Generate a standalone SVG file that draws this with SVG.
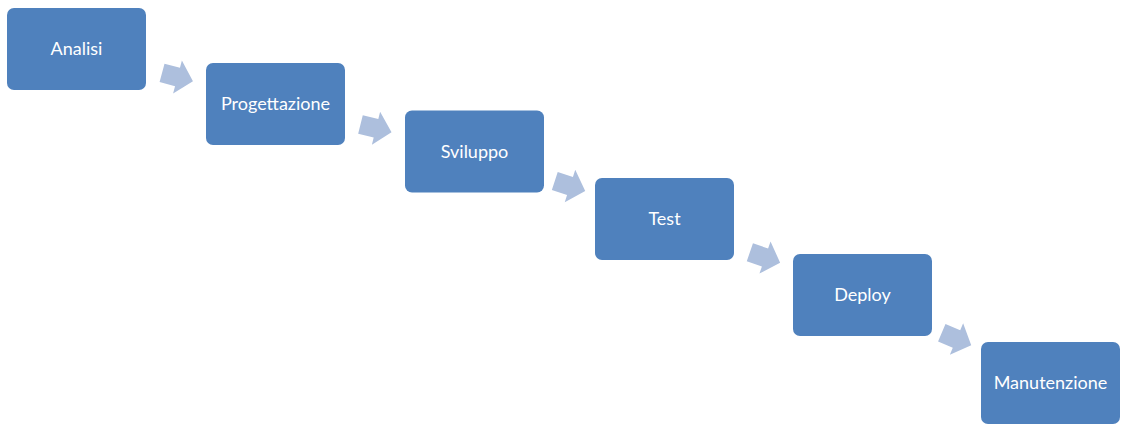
<svg xmlns="http://www.w3.org/2000/svg" width="1121" height="428" viewBox="0 0 1121 428">
  <style>
    .box { fill: #4f81bd; }
    .lbl { fill: #ffffff; font-family: Lato, "Liberation Sans", sans-serif; font-size: 18px; text-anchor: middle; }
    .arr { fill: #adbfdd; }
  </style>
  <defs>
    <path id="blockArrow" d="M-16,-9.5 H0 V-17 L16,0 L0,17 V9.5 H-16 Z"/>
  </defs>
  <rect width="1121" height="428" fill="#ffffff"/>
  <g id="connectors">
    <use href="#blockArrow" class="arr" transform="translate(177.5,77) rotate(15)"/>
    <use href="#blockArrow" class="arr" transform="translate(376,128.3) rotate(14)"/>
    <use href="#blockArrow" class="arr" transform="translate(570,186) rotate(18)"/>
    <use href="#blockArrow" class="arr" transform="translate(765,257.5) rotate(19)"/>
    <use href="#blockArrow" class="arr" transform="translate(956.5,339) rotate(23)"/>
  </g>
  <g id="analisi">
    <rect class="box" x="7" y="8" width="139" height="82" rx="7"/>
    <text class="lbl" x="76.5" y="55">Analisi</text>
  </g>
  <g id="progettazione">
    <rect class="box" x="206" y="63" width="139" height="82" rx="7"/>
    <text class="lbl" x="275.5" y="110">Progettazione</text>
  </g>
  <g id="sviluppo">
    <rect class="box" x="405" y="110.5" width="139" height="82" rx="7"/>
    <text class="lbl" x="474.5" y="157.5">Sviluppo</text>
  </g>
  <g id="test">
    <rect class="box" x="595" y="178" width="139" height="82" rx="7"/>
    <text class="lbl" x="664.5" y="225">Test</text>
  </g>
  <g id="deploy">
    <rect class="box" x="793" y="254" width="139" height="82" rx="7"/>
    <text class="lbl" x="862.5" y="301">Deploy</text>
  </g>
  <g id="manutenzione">
    <rect class="box" x="981" y="342" width="139" height="82" rx="7"/>
    <text class="lbl" x="1050.5" y="389">Manutenzione</text>
  </g>
</svg>
